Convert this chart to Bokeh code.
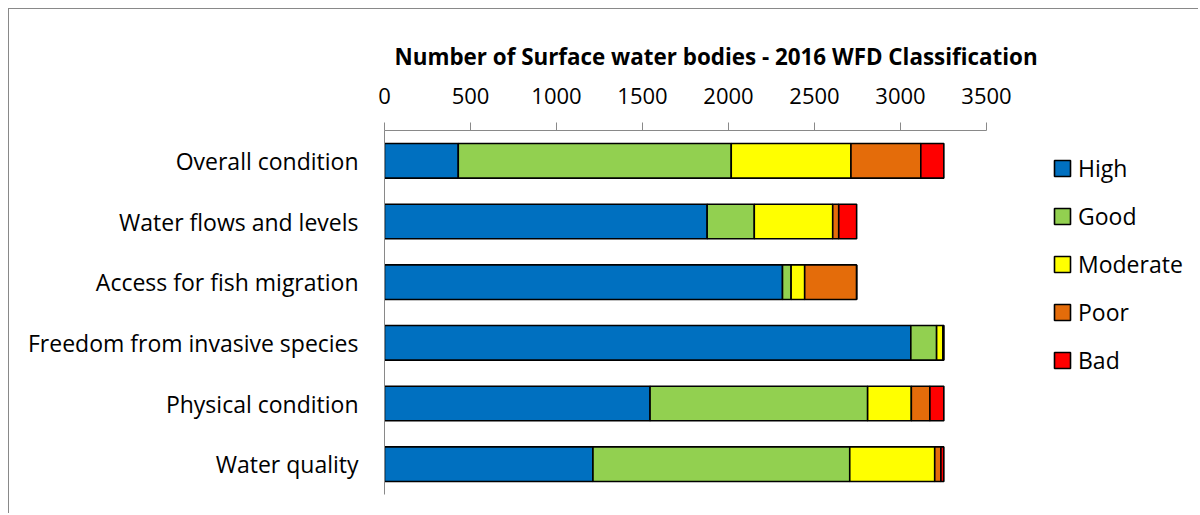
from bokeh.plotting import figure
from bokeh.models import (ColumnDataSource, FactorRange, Range1d, Legend, LegendItem,
                          Title, FixedTicker)
from bokeh.embed import file_html
from bokeh.resources import INLINE

categories = ["Overall condition", "Water flows and levels", "Access for fish migration",
              "Freedom from invasive species", "Physical condition", "Water quality"]
classes = ["High", "Good", "Moderate", "Poor", "Bad"]
high = [429, 1876, 2314, 3060, 1544, 1212]
good = [1587, 274, 50, 150, 1265, 1493]
moderate = [696, 456, 79, 37, 254, 494]
poor = [406, 35, 302, 3, 108, 36]
bad = [134, 104, 0, 2, 81, 17]
colors = ["#0070C0", "#92D050", "#FFFF00", "#E46C0A", "#FF0000"]
x_ticks = [0, 500, 1000, 1500, 2000, 2500, 3000, 3500]
title_text = "Number of Surface water bodies - 2016 WFD Classification"

FONT = "Open Sans"
GRAY = "#898989"

# layout (pixels)
W, H = 1190, 505
LEFT, TOP, BOTTOM = 375, 121, 20
AXIS_PX = 602          # pixel length of 0..3500
frame_w = W - LEFT
x_end = x_ticks[-1] * frame_w / AXIS_PX

source = ColumnDataSource(dict(cat=categories, High=high, Good=good, Moderate=moderate,
                               Poor=poor, Bad=bad))

p = figure(width=W, height=H, output_backend="svg", toolbar_location=None,
           x_range=Range1d(0, x_end), y_range=FactorRange(*reversed(categories)),
           x_axis_location="above",
           min_border_left=LEFT, min_border_top=TOP, min_border_right=0,
           min_border_bottom=BOTTOM)
p.styles = {"margin-left": "8px", "margin-top": "8px",
            "border-left": "1px solid " + GRAY, "border-top": "1px solid " + GRAY}
p.outline_line_color = None
p.xgrid.grid_line_color = None
p.ygrid.grid_line_color = None

p.title = Title(text=title_text, align="left", offset=10, text_font=FONT,
                text_font_style="bold", text_font_size="22.4px", text_color="black",
                standoff=26)

renderers = p.hbar_stack(classes, y="cat", height=0.57, color=colors, source=source,
                         line_color="black", line_width=1.6)

# x axis (top)
xa = p.xaxis[0]
xa.bounds = (x_ticks[0], x_ticks[-1])
xa.ticker = FixedTicker(ticks=x_ticks)
xa.axis_line_color = GRAY
xa.major_tick_line_color = GRAY
xa.major_tick_out = 8
xa.major_tick_in = 0
xa.minor_tick_line_color = None
xa.major_label_text_font = FONT
xa.major_label_text_font_size = "22px"
xa.major_label_text_color = "black"
xa.major_label_standoff = 19

# y axis
ya = p.yaxis[0]
ya.axis_line_color = GRAY
ya.major_tick_line_color = None
ya.major_tick_out = 0
ya.major_tick_in = 0
ya.minor_tick_line_color = None
ya.major_label_text_font = FONT
ya.major_label_text_font_size = "23px"
ya.major_label_text_color = "black"
ya.major_label_standoff = 26

legend = Legend(items=[LegendItem(label=c, renderers=[r]) for c, r in zip(classes, renderers)],
                location=(668, 118), orientation="vertical")
legend.label_text_font = FONT
legend.label_text_font_size = "23px"
legend.label_text_color = "black"
legend.glyph_width = 20
legend.glyph_height = 20
legend.label_height = 20
legend.label_standoff = 6
legend.spacing = 16
legend.padding = 0
legend.margin = 0
legend.border_line_color = None
legend.background_fill_alpha = 0
p.add_layout(legend, "center")

open("out.html", "w").write(file_html(p, INLINE))
